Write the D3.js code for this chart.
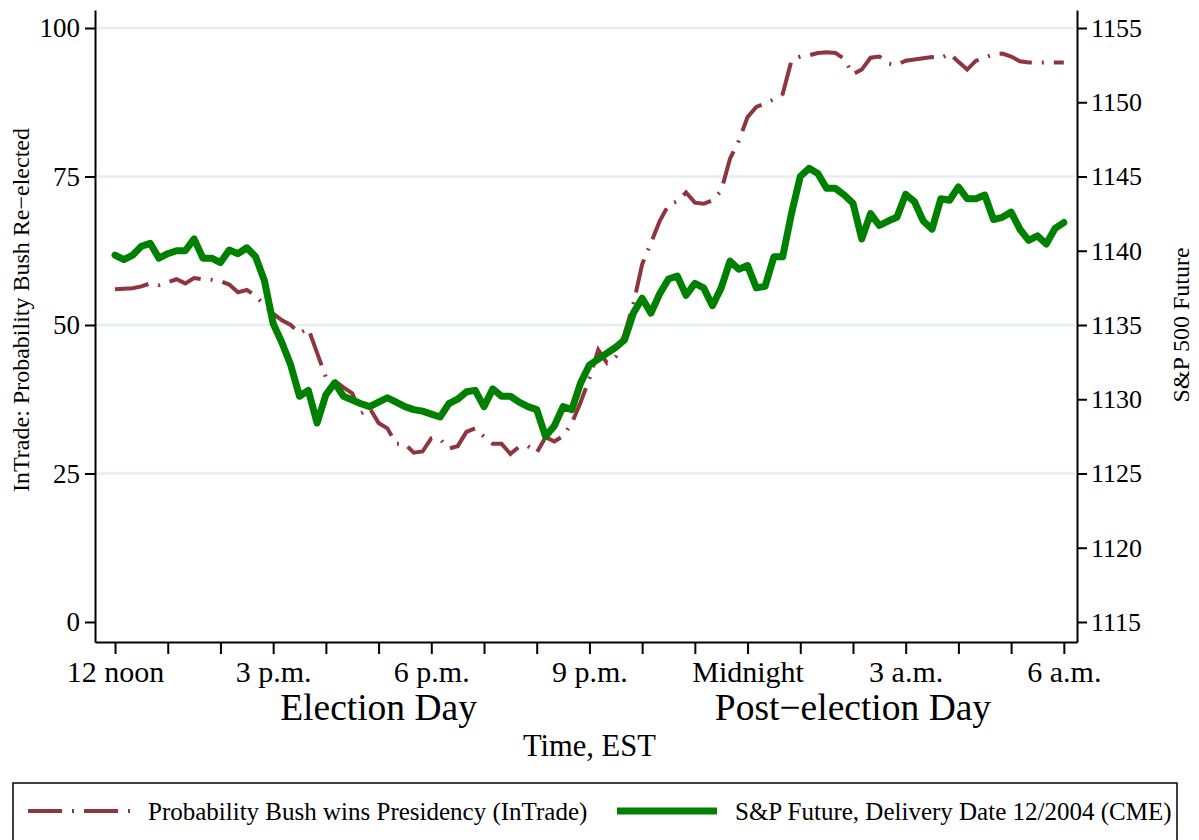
<!DOCTYPE html>
<html>
<head>
<meta charset="utf-8">
<script src="https://cdn.jsdelivr.net/npm/d3@7"></script>
<style>
  body { margin: 0; background: #fff; }
  svg { display: block; }
  text { font-family: "Liberation Serif", "Times New Roman", serif; fill: #000; }
</style>
</head>
<body>
<svg id="chart" width="1199" height="840"></svg>
<script>
// sample times, minutes after 12 noon on election day (10 minute steps)
var minutes = d3.range(0, 18 * 60 + 1, 10);

// InTrade: probability Bush re-elected (left axis)
var intrade = [
  56.0, 56.1, 56.2, 56.5, 57.0, 56.7, 57.2, 57.7, 57.0, 57.9,
  57.7, 57.6, 57.4, 56.8, 55.5, 55.9, 54.9, 53.3, 51.9, 50.8,
  50.0, 48.6, 49.4, 45.3, 41.2, 40.6, 39.5, 38.5, 35.1, 36.0,
  33.5, 32.6, 30.0, 30.0, 28.5, 28.7, 30.9, 30.8, 29.2, 29.6,
  32.0, 32.6, 31.2, 30.0, 30.0, 28.3, 29.5, 29.6, 28.5, 31.1,
  30.4, 31.3, 33.5, 37.0, 41.0, 45.8, 43.6, 44.7, 48.5, 53.5,
  60.2, 63.8, 67.5, 70.2, 70.8, 72.3, 70.6, 70.4, 71.0, 72.6,
  78.0, 81.0, 85.0, 86.7, 87.3, 88.0, 88.9, 94.5, 95.2, 95.4,
  95.8, 95.9, 95.8, 94.8, 92.2, 93.0, 95.0, 95.2, 94.0, 93.8,
  94.5, 94.7, 94.9, 95.1, 94.9, 95.7, 94.3, 93.0, 94.5, 95.0,
  95.6, 95.7, 95.2, 94.4, 94.2, 94.2, 94.2, 94.2, 94.2
];

// S&P 500 future, delivery 12/2004 (right axis)
var spFuture = [
  1139.7, 1139.4, 1139.7, 1140.3, 1140.5, 1139.5, 1139.8, 1140.0, 1140.0, 1140.8,
  1139.5, 1139.5, 1139.2, 1140.05, 1139.8, 1140.2, 1139.6, 1138.0, 1135.1, 1133.8,
  1132.3, 1130.2, 1130.6, 1128.4, 1130.3, 1131.1, 1130.2, 1129.95, 1129.7, 1129.5,
  1129.8, 1130.1, 1129.8, 1129.5, 1129.3, 1129.2, 1129.0, 1128.8, 1129.7, 1130.0,
  1130.5, 1130.6, 1129.5, 1130.7, 1130.2, 1130.2, 1129.8, 1129.5, 1129.3, 1127.5,
  1128.2, 1129.5, 1129.3, 1131.1, 1132.3, 1132.7, 1133.1, 1133.5, 1134.0, 1135.8,
  1136.8, 1135.8, 1137.1, 1138.1, 1138.3, 1137.0, 1137.8, 1137.5, 1136.3, 1137.5,
  1139.3, 1138.75, 1139.0, 1137.5, 1137.6, 1139.6, 1139.6, 1142.5, 1145.0, 1145.55,
  1145.2, 1144.2, 1144.2, 1143.75, 1143.2, 1140.8, 1142.5, 1141.7, 1142.0, 1142.25,
  1143.8, 1143.3, 1142.0, 1141.45, 1143.5, 1143.4, 1144.3, 1143.5, 1143.5, 1143.75,
  1142.1, 1142.25, 1142.6, 1141.45, 1140.7, 1141.0, 1140.45, 1141.5, 1141.9
];

var hourTicks = d3.range(0, 19);
var hourLabels = { 0: '12 noon', 3: '3 p.m.', 6: '6 p.m.', 9: '9 p.m.', 12: 'Midnight', 15: '3 a.m.', 18: '6 a.m.' };
var leftTicks = [0, 25, 50, 75, 100];
var rightTicks = [1115, 1120, 1125, 1130, 1135, 1140, 1145, 1150, 1155];
var dayLabels = [{ hour: 5, text: 'Election Day' }, { hour: 14, text: 'Post\u2212election Day' }];
var seriesNames = ['Probability Bush wins Presidency (InTrade)', 'S&P Future, Delivery Date 12/2004 (CME)'];

var red = '#8e353d';
var green = '#008000';
var redDash = '34 10 2 10';

var svg = d3.select('#chart');

// scales: axis lines run a little past the first/last ticks, like Stata
var x = d3.scaleLinear().domain([-0.38, 18.25]).range([95, 1077]);
var yL = d3.scaleLinear().domain([-3.37, 103.03]).range([642, 10]);
var yR = d3.scaleLinear().domain([1115 - 3.37 * 0.4, 1115 + 103.03 * 0.4]).range([642, 10]);

// gridlines
svg.append('g')
  .selectAll('line')
  .data(leftTicks.filter(function (d) { return d > 0; }))
  .join('line')
  .attr('x1', 97).attr('x2', 1075)
  .attr('y1', function (d) { return yL(d); })
  .attr('y2', function (d) { return yL(d); })
  .attr('stroke', '#e6eef0')
  .attr('stroke-width', 2.5);

// series
var redLine = d3.line()
  .x(function (d, i) { return x(minutes[i] / 60); })
  .y(function (d) { return yL(d); });

var greenLine = d3.line()
  .x(function (d, i) { return x(minutes[i] / 60); })
  .y(function (d) { return yR(d); });

svg.append('path')
  .datum(intrade)
  .attr('d', redLine)
  .attr('fill', 'none')
  .attr('stroke', red)
  .attr('stroke-width', 4)
  .attr('stroke-dasharray', redDash);

svg.append('path')
  .datum(spFuture)
  .attr('d', greenLine)
  .attr('fill', 'none')
  .attr('stroke', green)
  .attr('stroke-width', 7)
  .attr('stroke-linejoin', 'round')
  .attr('stroke-linecap', 'round');

// axes
function styleAxis(g, size) {
  g.select('.domain').attr('stroke', '#000').attr('stroke-width', 2);
  g.selectAll('.tick line').attr('stroke', '#000').attr('stroke-width', 2);
  g.selectAll('.tick text')
    .attr('font-family', '"Liberation Serif", "Times New Roman", serif')
    .attr('font-size', size)
    .attr('fill', '#000');
}

svg.append('g')
  .attr('transform', 'translate(95,0)')
  .call(d3.axisLeft(yL).tickValues(leftTicks).tickSize(10).tickSizeOuter(0).tickPadding(5))
  .call(styleAxis, 27);

svg.append('g')
  .attr('transform', 'translate(1077,0)')
  .call(d3.axisRight(yR).tickValues(rightTicks).tickSize(10).tickSizeOuter(0).tickPadding(4)
    .tickFormat(d3.format('d')))
  .call(styleAxis, 26);

svg.append('g')
  .attr('transform', 'translate(0,642)')
  .call(d3.axisBottom(x).tickValues(hourTicks).tickSize(12).tickSizeOuter(0).tickPadding(7)
    .tickFormat(function (d) { return hourLabels[d] || ''; }))
  .call(styleAxis, 30);

// day labels under the axis
svg.append('g')
  .selectAll('text')
  .data(dayLabels)
  .join('text')
  .attr('x', function (d) { return x(d.hour); })
  .attr('y', 720)
  .attr('text-anchor', 'middle')
  .attr('font-size', 37.5)
  .text(function (d) { return d.text; });

// axis titles
svg.append('text')
  .attr('x', x(9)).attr('y', 756)
  .attr('text-anchor', 'middle')
  .attr('font-size', 30.5)
  .text('Time, EST');

svg.append('text')
  .attr('transform', 'translate(29,310) rotate(-90)')
  .attr('text-anchor', 'middle')
  .attr('font-size', 24)
  .text('InTrade: Probability Bush Re\u2212elected');

svg.append('text')
  .attr('transform', 'translate(1189,' + yL(50) + ') rotate(-90)')
  .attr('text-anchor', 'middle')
  .attr('font-size', 24)
  .text('S&P 500 Future');

// legend
var legend = svg.append('g');
legend.append('rect')
  .attr('x', 13).attr('y', 783)
  .attr('width', 1164).attr('height', 80)
  .attr('fill', 'none')
  .attr('stroke', '#000')
  .attr('stroke-width', 1.5);

legend.append('line')
  .attr('x1', 28).attr('x2', 130).attr('y1', 811).attr('y2', 811)
  .attr('stroke', red).attr('stroke-width', 4).attr('stroke-dasharray', redDash);
legend.append('text')
  .attr('x', 148).attr('y', 820)
  .attr('font-size', 25)
  .text(seriesNames[0]);

legend.append('line')
  .attr('x1', 617).attr('x2', 717).attr('y1', 811).attr('y2', 811)
  .attr('stroke', green).attr('stroke-width', 7);
legend.append('text')
  .attr('x', 735).attr('y', 820)
  .attr('font-size', 25)
  .text(seriesNames[1]);
</script>
</body>
</html>
